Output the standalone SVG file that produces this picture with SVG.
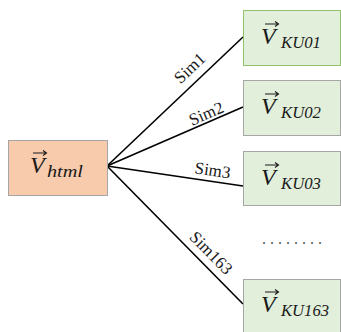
<svg xmlns="http://www.w3.org/2000/svg" width="341" height="332" viewBox="0 0 341 332">
  <style>
    .src { fill: #F8CBAD; stroke: #A6A6A6; stroke-width: 1; }
    .dst { fill: #E2EFDA; stroke: #A6A6A6; stroke-width: 1; }
    .dst1 { fill: #E2EFDA; stroke: #8FC26A; stroke-width: 1; }
    .v { font-family: "Liberation Serif", "Times New Roman", serif; font-style: italic; font-size: 24px; fill: #1a1a1a; }
    .sub { font-family: "Liberation Serif", "Times New Roman", serif; font-style: italic; font-size: 16px; fill: #1a1a1a; }
    .lbl { font-family: "Liberation Serif", "Times New Roman", serif; font-size: 17px; fill: #1a1a1a; text-anchor: middle; }
    .edge { stroke: #000; stroke-width: 1.6; fill: none; }
    .vec { stroke: #1a1a1a; stroke-width: 1.1; fill: none; }
    .dots { font-family: "Liberation Serif", serif; font-size: 16px; fill: #555; }
  </style>
  <defs>
    <!-- vector arrow drawn above a V -->
    <g id="vecarrow">
      <path class="vec" d="M0 0 H13 M10 -2.5 L13.5 0 L10 2.5"/>
    </g>
  </defs>

  <g id="connectors">
    <line class="edge" x1="107" y1="166" x2="243" y2="37"/>
    <line class="edge" x1="107" y1="166" x2="243" y2="107"/>
    <line class="edge" x1="107" y1="166" x2="243" y2="186"/>
    <line class="edge" x1="107" y1="166" x2="243" y2="304"/>
    <text class="lbl" transform="translate(199.4 78.3) rotate(-43.5)" y="-8.5">Sim1</text>
    <text class="lbl" transform="translate(209.7 121.5) rotate(-23.4)" y="-3">Sim2</text>
    <text class="lbl" transform="translate(211 181.2) rotate(8.4)" y="-5.5">Sim3</text>
    <text class="lbl" transform="translate(201.8 262.1) rotate(45.4)" y="-7.5">Sim163</text>
  </g>

  <g id="v-html">
    <rect class="src" x="8.5" y="140.5" width="99" height="55"/>
    <use href="#vecarrow" x="33" y="153"/>
    <text class="v" x="30" y="173">V</text>
    <text class="sub" x="47" y="177" textLength="36" lengthAdjust="spacingAndGlyphs">html</text>
  </g>

  <g id="v-ku01">
    <rect class="dst1" x="243.5" y="10.5" width="97" height="55"/>
    <use href="#vecarrow" x="265" y="24"/>
    <text class="v" x="261" y="44">V</text>
    <text class="sub" x="281" y="48" textLength="40" lengthAdjust="spacingAndGlyphs">KU01</text>
  </g>

  <g id="v-ku02">
    <rect class="dst" x="243.5" y="80.5" width="97" height="55"/>
    <use href="#vecarrow" x="265" y="94"/>
    <text class="v" x="261" y="114">V</text>
    <text class="sub" x="281" y="118" textLength="40" lengthAdjust="spacingAndGlyphs">KU02</text>
  </g>

  <g id="v-ku03">
    <rect class="dst" x="243.5" y="151.5" width="97" height="54"/>
    <use href="#vecarrow" x="265" y="165"/>
    <text class="v" x="261" y="185">V</text>
    <text class="sub" x="281" y="189" textLength="40" lengthAdjust="spacingAndGlyphs">KU03</text>
  </g>

  <g id="ellipsis">
    <text class="dots" x="262" y="244" textLength="60">........</text>
  </g>

  <g id="v-ku163">
    <rect class="dst" x="243.5" y="279.5" width="97" height="55"/>
    <use href="#vecarrow" x="265" y="292"/>
    <text class="v" x="261" y="312">V</text>
    <text class="sub" x="281" y="316" textLength="48" lengthAdjust="spacingAndGlyphs">KU163</text>
  </g>
</svg>
